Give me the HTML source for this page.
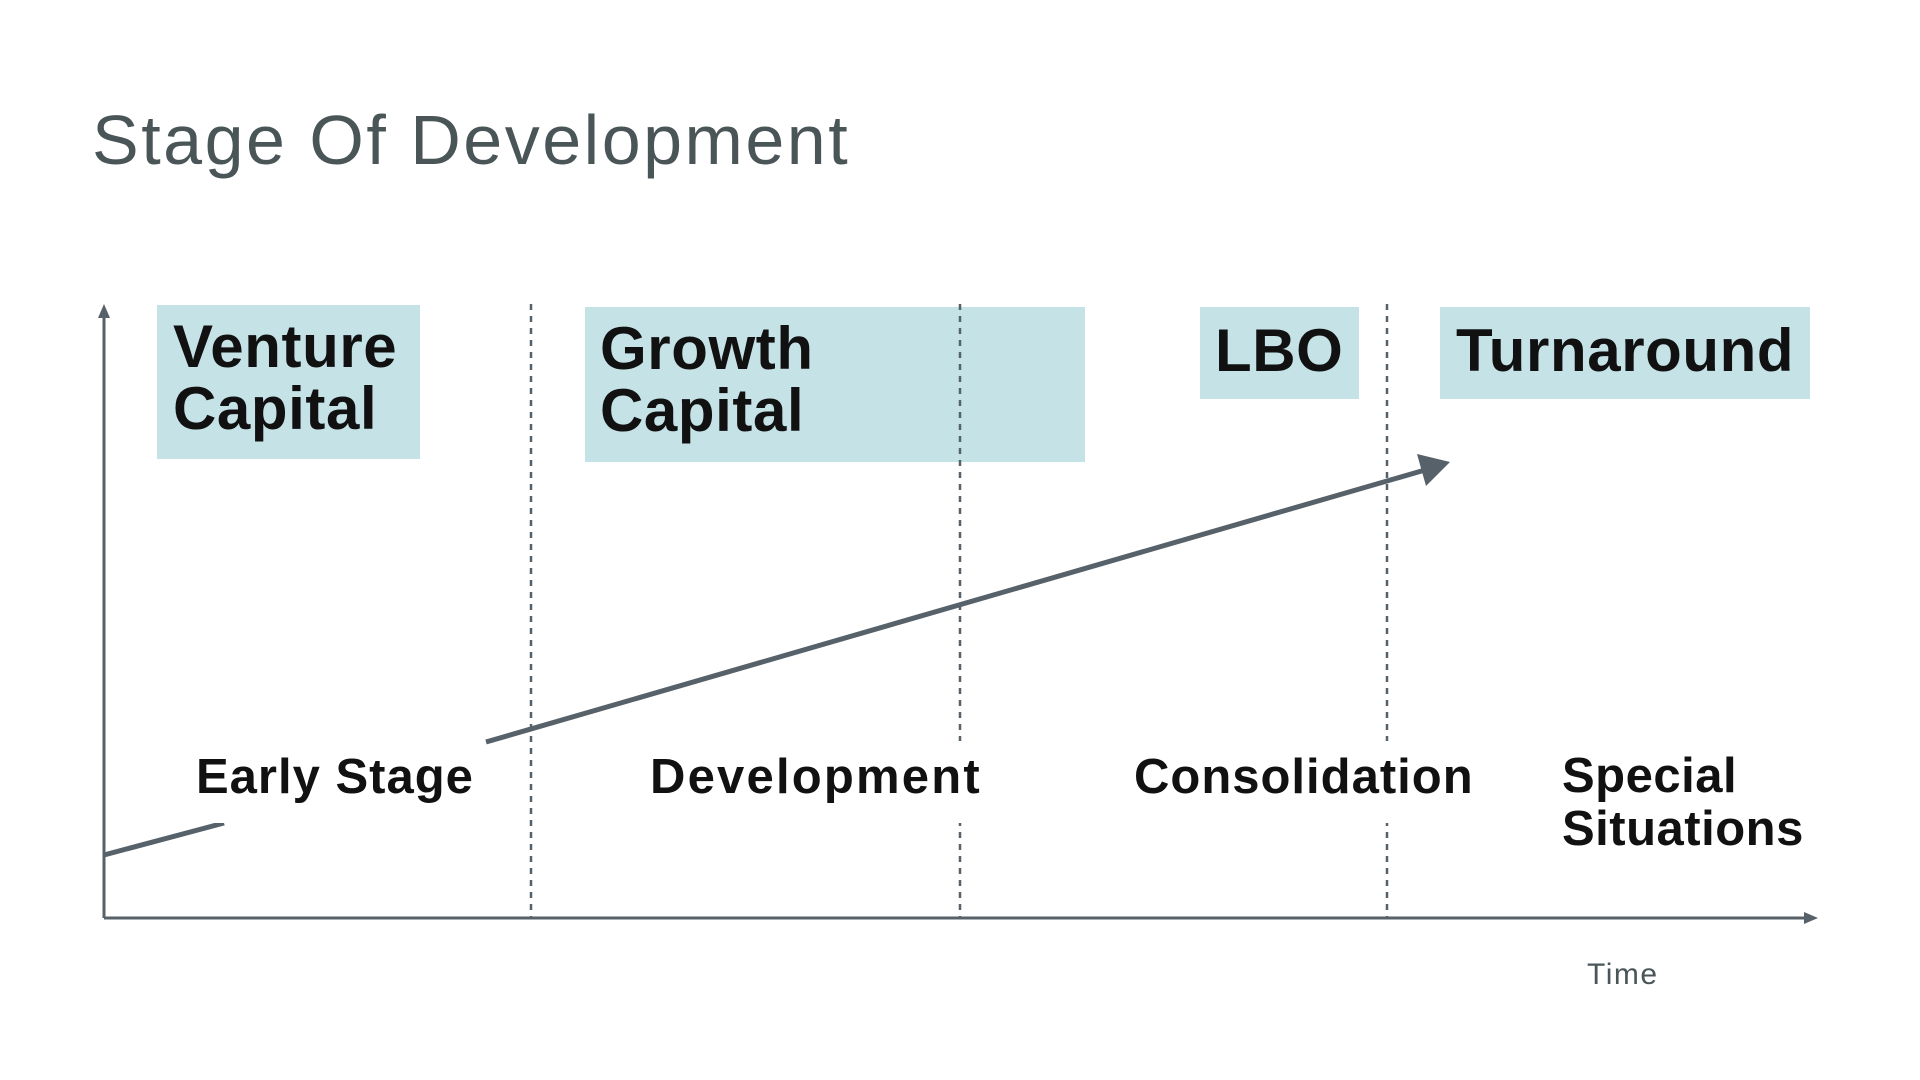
<!DOCTYPE html>
<html><head><meta charset="utf-8"><style>
html,body{margin:0;padding:0;background:#fff;}
body{width:1920px;height:1080px;position:relative;overflow:hidden;font-family:"Liberation Sans",sans-serif;}
.t{position:absolute;white-space:nowrap;}
.box{position:absolute;background:#c5e2e7;}
.bt{position:absolute;font-weight:bold;font-size:60px;line-height:62px;color:#111;letter-spacing:0.6px;}
.lb{position:absolute;font-size:49px;line-height:54px;color:#111;background:#fff;letter-spacing:1px;font-weight:bold;padding:9px 6px 19px 6px;white-space:nowrap;}
</style></head><body>
<div class="t" style="left:92px;top:100px;font-size:70px;color:#4a5558;letter-spacing:2.5px;">Stage Of Development</div>

<div class="box" style="left:157px;top:305px;width:263px;height:154px;"></div>
<div class="box" style="left:585px;top:307px;width:500px;height:155px;"></div>
<div class="box" style="left:1200px;top:307px;width:159px;height:92px;"></div>
<div class="box" style="left:1440px;top:307px;width:370px;height:92px;"></div>

<svg width="1920" height="1080" style="position:absolute;left:0;top:0;">
<g stroke="#56616a" stroke-width="2.5" stroke-dasharray="6,6">
<line x1="531" y1="304" x2="531" y2="918"/>
<line x1="960" y1="304" x2="960" y2="918"/>
<line x1="1387" y1="304" x2="1387" y2="918"/>
</g>
<g stroke="#56616a" stroke-width="3" fill="none">
<line x1="104" y1="918" x2="104" y2="312"/>
<line x1="104" y1="918" x2="1810" y2="918"/>
</g>
<polygon points="104,304 98,318 110,318" fill="#56616a"/>
<polygon points="1818,918 1804,912 1804,924" fill="#56616a"/>
<line x1="104" y1="855" x2="224" y2="823" stroke="#56616a" stroke-width="5"/>
<line x1="486" y1="742" x2="1425" y2="470" stroke="#56616a" stroke-width="5"/>
<polygon points="1450,462 1417,454 1426,486" fill="#56616a"/>
</svg>

<div class="bt" style="left:173px;top:316px;">Venture<br>Capital</div>
<div class="bt" style="left:600px;top:318px;">Growth<br>Capital</div>
<div class="bt" style="left:1215px;top:320px;">LBO</div>
<div class="bt" style="left:1456px;top:320px;">Turnaround</div>

<div class="lb" style="left:190px;top:741px;">Early Stage</div>
<div class="lb" style="left:644px;top:741px;letter-spacing:2.2px;">Development</div>
<div class="lb" style="left:1128px;top:741px;">Consolidation</div>
<div class="lb" style="left:1556px;top:741px;line-height:53px;letter-spacing:0.5px;">Special<br>Situations</div>

<div class="t" style="left:1587px;top:958px;font-size:30px;color:#4a5558;letter-spacing:1.5px;">Time</div>
</body></html>
